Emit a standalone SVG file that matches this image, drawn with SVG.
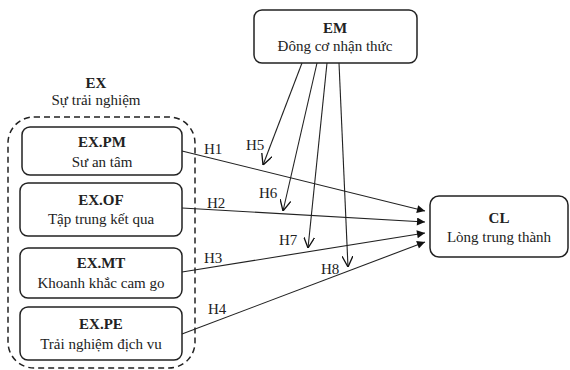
<svg xmlns="http://www.w3.org/2000/svg" width="570" height="370" viewBox="0 0 570 370">
<defs>
<marker id="fill" viewBox="0 0 10 10" refX="10" refY="5" markerWidth="10" markerHeight="8" markerUnits="userSpaceOnUse" orient="auto"><path d="M0,0 L10,5 L0,10 z" fill="#111"/></marker>
<marker id="open" viewBox="0 0 10 10" refX="10" refY="5" markerWidth="11" markerHeight="11" markerUnits="userSpaceOnUse" orient="auto"><path d="M0,0 L10,5 L0,10" fill="none" stroke="#111" stroke-width="1.2"/></marker>
</defs>
<style>
.box{fill:#fff;stroke:#222;stroke-width:1.5}
.t{font-family:"Liberation Serif","Times New Roman",serif;font-size:15px;fill:#222;text-anchor:middle}
.b{font-weight:bold}
.l{font-family:"Liberation Serif","Times New Roman",serif;font-size:15px;fill:#222}
.c{stroke:#222;stroke-width:1.1;fill:none}
</style>
<rect width="570" height="370" fill="#fff"/>
<g id="EX-group">
<rect x="8" y="117" width="187" height="251" rx="26" fill="none" stroke="#222" stroke-width="1.5" stroke-dasharray="6,4"/>
<text class="t b" x="96" y="88">EX</text>
<text class="t" x="96" y="105">Sự trải nghiệm</text>
</g>
<g id="EM">
<rect class="box" x="254" y="10" width="163" height="53" rx="8"/>
<text class="t b" x="335" y="33">EM</text>
<text class="t" x="335" y="51">Đông cơ nhận thức</text>
</g>
<g id="EXPM">
<rect class="box" x="22" y="127" width="160" height="48" rx="8"/>
<text class="t b" x="102" y="147">EX.PM</text>
<text class="t" x="102" y="167">Sư an tâm</text>
</g>
<g id="EXOF">
<rect class="box" x="20" y="183" width="162" height="53" rx="8"/>
<text class="t b" x="101" y="205">EX.OF</text>
<text class="t" x="101" y="224">Tập trung kết qua</text>
</g>
<g id="EXMT">
<rect class="box" x="20" y="248" width="162" height="50" rx="8"/>
<text class="t b" x="101" y="268">EX.MT</text>
<text class="t" x="101" y="288">Khoanh khắc cam go</text>
</g>
<g id="EXPE">
<rect class="box" x="20" y="307" width="162" height="53" rx="8"/>
<text class="t b" x="101" y="329">EX.PE</text>
<text class="t" x="101" y="349">Trải nghiệm địch vu</text>
</g>
<g id="CL">
<rect class="box" x="430" y="196" width="138" height="61" rx="9"/>
<text class="t b" x="499" y="223">CL</text>
<text class="t" x="499" y="242">Lòng trung thành</text>
</g>
<g id="connectors">
<line class="c" x1="182" y1="151" x2="425" y2="211" marker-end="url(#fill)"/>
<line class="c" x1="182" y1="208" x2="425" y2="222" marker-end="url(#fill)"/>
<line class="c" x1="182" y1="272" x2="425" y2="233" marker-end="url(#fill)"/>
<line class="c" x1="182" y1="334" x2="425" y2="242" marker-end="url(#fill)"/>
<line class="c" x1="302" y1="63" x2="263" y2="165" marker-end="url(#open)"/>
<line class="c" x1="317" y1="63" x2="283" y2="211" marker-end="url(#open)"/>
<line class="c" x1="327" y1="63" x2="308" y2="248" marker-end="url(#open)"/>
<line class="c" x1="339" y1="63" x2="348" y2="267" marker-end="url(#open)"/>
<text class="l" x="204" y="154">H1</text>
<text class="l" x="207" y="208">H2</text>
<text class="l" x="204" y="263">H3</text>
<text class="l" x="208" y="314">H4</text>
<text class="l" x="246" y="150">H5</text>
<text class="l" x="259" y="198">H6</text>
<text class="l" x="279" y="245">H7</text>
<text class="l" x="321" y="274">H8</text>
</g>
</svg>
